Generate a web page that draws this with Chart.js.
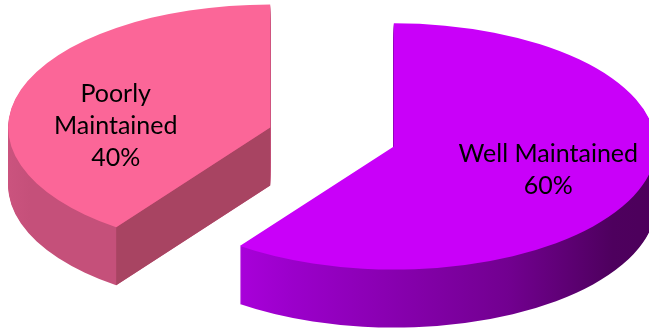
<!DOCTYPE html>
<html lang="en">
<head>
<meta charset="UTF-8">
<title>Maintenance Share</title>
<script src="https://cdn.jsdelivr.net/npm/chart.js"></script>
<style>
  html, body { margin: 0; padding: 0; background: #fff; }
  .wrap { width: 649px; height: 335px; }
</style>
</head>
<body>
<div class="wrap"><canvas id="pie"></canvas></div>
<script>
const categories = ['Well Maintained', ['Poorly', 'Maintained']];
const shares = [60, 40];
const topColors = ['#C900F9', '#FB6698'];

// fake 3D look
const tilt = 0.47;      // vertical squash of the disc
const depth = 58;       // thickness in px
const explode = 65;     // how far the slices pull apart
const centerY = 137;    // screen y of the pie centre
const wallStops = [
    [[0, '#B400E6'], [0.18, '#9C00CC'], [0.6, '#720090'], [0.8, '#4E005E'], [1, '#4A0056']],
    [[0, '#DA5C8A'], [0.16, '#C5507A'], [1, '#C5507A']]
];
const cutColors = ['#52005F', '#A84462'];
const labelNudge = [0, 22];

function paint(arc, ctx, fill) {
    const el = Object.create(arc);
    el.options = Object.assign({}, arc.options, { backgroundColor: fill, borderWidth: 0 });
    el.draw(ctx);
}

const pie3d = {
    id: 'pie3d',
    beforeDatasetsDraw(chart) {
        const ctx = chart.ctx;
        const area = chart.chartArea;
        const midY = (area.top + area.bottom) / 2;
        const toScreenY = (y, d) => centerY + d + (y - midY) * tilt;
        const arcs = chart.getDatasetMeta(0).data;
        const total = shares.reduce((a, b) => a + b, 0);

        const order = arcs.map((a, i) => i).sort((a, b) => {
            const ma = (arcs[a].startAngle + arcs[a].endAngle) / 2;
            const mb = (arcs[b].startAngle + arcs[b].endAngle) / 2;
            return Math.sin(ma) - Math.sin(mb);
        });

        const placed = [];
        order.forEach(i => {
            const arc = arcs[i];
            const mid = (arc.startAngle + arc.endAngle) / 2;
            const ex = Math.cos(mid) * explode, ey = Math.sin(mid) * explode;
            const cx = arc.x + ex, cy = arc.y + ey;
            const R = arc.outerRadius;
            placed[i] = { cx, cy, R, mid };

            // side wall, stacked layers
            const grad = ctx.createLinearGradient(cx - R, 0, cx + R, 0);
            wallStops[i].forEach(([p, c]) => grad.addColorStop(p, c));
            for (let d = depth; d > 0; d--) {
                ctx.save();
                ctx.translate(ex, centerY + d);
                ctx.scale(1, tilt);
                ctx.translate(0, ey - midY);
                paint(arc, ctx, grad);
                ctx.restore();
            }

            // radial cut faces that look toward us
            [[arc.startAngle, -Math.PI / 2], [arc.endAngle, Math.PI / 2]].forEach(([a, turn]) => {
                if (Math.sin(a + turn) <= 0.01) return;
                const px = cx + Math.cos(a) * R, py = cy + Math.sin(a) * R;
                ctx.beginPath();
                ctx.moveTo(cx, toScreenY(cy, 0));
                ctx.lineTo(px, toScreenY(py, 0));
                ctx.lineTo(px, toScreenY(py, depth));
                ctx.lineTo(cx, toScreenY(cy, depth));
                ctx.closePath();
                ctx.fillStyle = cutColors[i];
                ctx.fill();
            });

            // top face
            ctx.save();
            ctx.translate(ex, centerY);
            ctx.scale(1, tilt);
            ctx.translate(0, ey - midY);
            arc.draw(ctx);
            ctx.restore();
        });

        // data labels
        ctx.save();
        ctx.font = '25px Lato';
        ctx.fillStyle = '#000';
        ctx.textAlign = 'center';
        ctx.textBaseline = 'middle';
        arcs.forEach((arc, i) => {
            const { cx, cy, R, mid } = placed[i];
            const lines = [].concat(chart.data.labels[i], Math.round(shares[i] / total * 100) + '%');
            const r = R * 0.62;
            const lx = cx + Math.cos(mid) * r;
            const ly = toScreenY(cy + Math.sin(mid) * r, 0) + labelNudge[i];
            lines.forEach((t, k) => ctx.fillText(t, lx, ly + (k - (lines.length - 1) / 2) * 32));
        });
        ctx.restore();
        return false;
    }
};

new Chart(document.getElementById('pie'), {
    type: 'pie',
    data: {
        labels: categories,
        datasets: [{
            data: shares,
            backgroundColor: topColors,
            borderWidth: 0,
            radius: 262,
            clip: false
        }]
    },
    options: {
        responsive: true,
        maintainAspectRatio: false,
        animation: false,
        layout: { padding: { left: 15 } },
        plugins: {
            legend: { display: false },
            tooltip: { enabled: false }
        }
    },
    plugins: [pie3d]
});
</script>
</body>
</html>
